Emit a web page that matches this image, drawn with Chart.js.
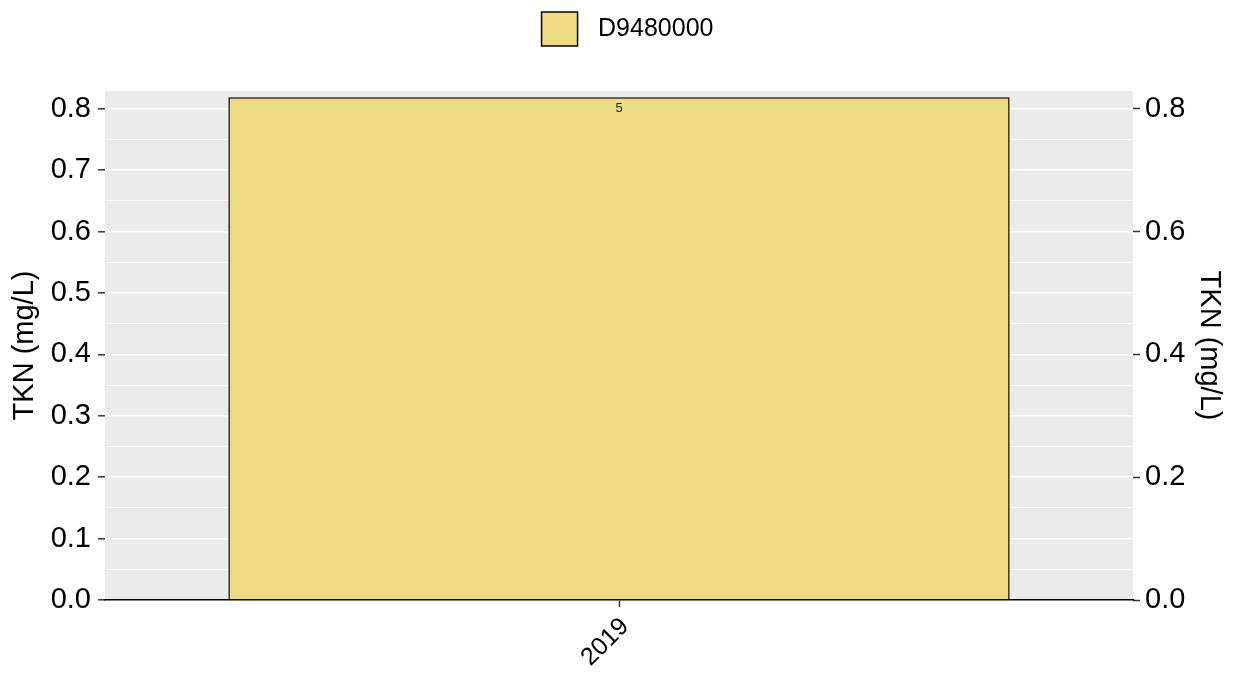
<!DOCTYPE html>
<html><head><meta charset="utf-8">
<script src="https://cdn.jsdelivr.net/npm/chart.js@4/dist/chart.umd.min.js"></script>
<style>html,body{margin:0;padding:0;background:#fff}#wrap{width:1233px;height:675px}</style>
</head><body><div id="wrap"><canvas id="c" width="1233" height="675"></canvas></div>
<script>
const categories = ['2019'];
const seriesName = 'D9480000';
const values = [0.819];
const counts = ['5'];
const leftTicks = [0,0.05,0.1,0.15,0.2,0.25,0.3,0.35,0.4,0.45,0.5,0.55,0.6,0.65,0.7,0.75,0.8];
const rightTicks = [0,0.2,0.4,0.6,0.8];
const yMax = 0.829;
const FONT = "'Liberation Sans', Arial, sans-serif";
const BAR_FILL = '#EDDC82';

const isMajor = v => Math.abs(Math.round(v*10) - v*10) < 1e-6;

const bgPlugin = {
  id:'bg',
  afterLayout(chart){
    const lg = chart.legend;
    if(lg){ lg.left += 11; lg.right += 11; }
  },
  beforeDraw(chart){
    const {ctx, chartArea:a} = chart;
    ctx.save(); ctx.fillStyle='#EBEBEB';
    ctx.fillRect(a.left,a.top,a.right-a.left,a.bottom-a.top); ctx.restore();
  },
  afterDatasetsDraw(chart){
    const {ctx} = chart;
    const meta = chart.getDatasetMeta(0);
    ctx.save(); ctx.fillStyle='#222'; ctx.font='13px '+FONT; ctx.textAlign='center'; ctx.textBaseline='middle';
    meta.data.forEach((bar,i)=>{ ctx.fillText(counts[i], bar.x, bar.y+11); });
    ctx.restore();
  },
  afterDraw(chart){
    const lg = chart.legend;
    if(!lg || !lg.legendHitBoxes || !lg.legendHitBoxes.length) return;
    const hb = lg.legendHitBoxes[0];
    const {ctx} = chart;
    ctx.save();
    ctx.fillStyle = BAR_FILL; ctx.strokeStyle='#000'; ctx.lineWidth=1.5;
    const y = hb.top + (hb.height-34)/2;
    ctx.fillRect(hb.left, y, 36, 34); ctx.strokeRect(hb.left, y, 36, 34);
    ctx.restore();
  }
};

new Chart(document.getElementById('c'), {
  type:'bar',
  data:{ labels:categories, datasets:[{ label:seriesName, data:values, backgroundColor:BAR_FILL, borderColor:'#000', borderWidth:1.5, borderSkipped:'bottom', barPercentage:0.76, categoryPercentage:1 }]},
  options:{
    responsive:false, animation:false,
    layout:{ padding:{ top:0, left:0, right:0, bottom:0 } },
    plugins:{
      legend:{ position:'top', labels:{ font:{family:FONT,size:25}, color:'#000', boxWidth:44, boxHeight:34, padding:12, generateLabels(chart){ return [{text:seriesName, fillStyle:'rgba(0,0,0,0)', strokeStyle:'rgba(0,0,0,0)', lineWidth:0, fontColor:'#000', datasetIndex:0}]; } } },
      tooltip:{enabled:false}
    },
    scales:{
      x:{
        offset:true,
        grid:{ display:true, drawOnChartArea:false, offset:false, tickLength:7, tickColor:'#333', tickWidth:1.5 },
        border:{ display:true, color:'#000', width:1.5 },
        ticks:{ font:{family:FONT,size:25}, color:'#000', maxRotation:45, minRotation:45, padding:5, labelOffset:6 },
        afterFit(s){ s.height = 75; }
      },
      xTopGap:{
        position:'top', type:'category', labels:categories, display:true,
        grid:{ display:false }, border:{ display:false }, ticks:{ display:false },
        afterFit(s){ s.height = 35; }
      },
      y:{
        position:'left', min:0, max:yMax,
        afterBuildTicks(s){ s.ticks = leftTicks.map(v=>({value:v})); },
        grid:{ color:'#fff', lineWidth:c=>isMajor(c.tick.value)?1.6:0.9, tickColor:c=>isMajor(c.tick.value)?'#333':'rgba(0,0,0,0)', tickLength:7, tickWidth:1.5 },
        border:{ display:false },
        ticks:{ autoSkip:false, font:{family:FONT,size:29}, color:'#000', padding:7, callback:v=>isMajor(v)?v.toFixed(1):'' },
        title:{ display:true, text:'TKN (mg/L)', font:{family:FONT,size:29}, color:'#000', padding:8 },
        afterFit(s){ s.width = 105; }
      },
      y2:{
        position:'right', min:0, max:yMax,
        afterBuildTicks(s){ s.ticks = rightTicks.map(v=>({value:v})); },
        grid:{ drawOnChartArea:false, tickColor:'#333', tickLength:7, tickWidth:1.5 },
        border:{ display:false },
        ticks:{ autoSkip:false, font:{family:FONT,size:29}, color:'#000', padding:5, callback:v=>v.toFixed(1) },
        title:{ display:true, text:'TKN (mg/L)', font:{family:FONT,size:29}, color:'#000', padding:7 },
        afterFit(s){ s.width = 100; }
      }
    }
  },
  plugins:[bgPlugin]
});
</script></body></html>
